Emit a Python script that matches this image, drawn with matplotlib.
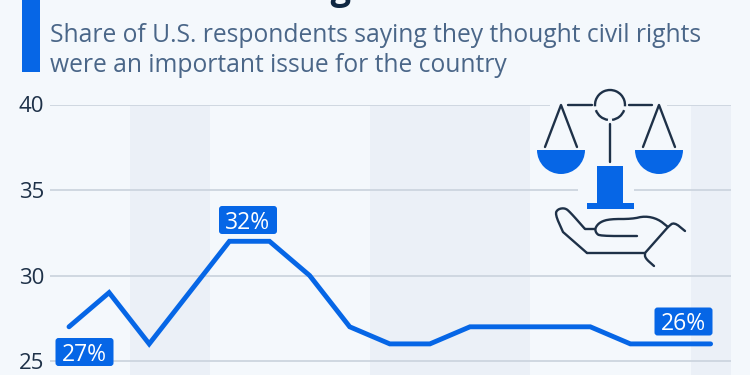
import matplotlib
matplotlib.use("Agg")
import matplotlib.pyplot as plt
from matplotlib.patches import FancyBboxPatch, Rectangle, Wedge, Arc

values = [27, 29, 26, 29, 32, 32, 30, 27, 26, 26, 27, 27, 27, 27, 26, 26, 26]
positions = list(range(len(values)))
y_ticks = [25, 30, 35, 40]
label_27 = "27%"
label_32 = "32%"
label_26 = "26%"
bands = [(1.52, 3.51), (7.5, 11.5), (15.5, 16.5)]

BLUE = "#0666e6"
DARK = "#1e3148"
SUB = "#4a6688"
BG = "#f4f8fc"
W, H = 750, 375
plt.rcParams["font.family"] = ["Open Sans", "DejaVu Sans"]

fig = plt.figure(figsize=(W / 100, H / 100), dpi=100, facecolor=BG)
ax = fig.add_axes([50 / W, 0, (731 - 50) / W, (375 - 104.5) / H])
ax.set_facecolor("none")
x_per_px = 1 / 40.1
ax.set_xlim(-(69 - 50) * x_per_px, (731 - 69) * x_per_px)
ax.set_ylim(25 - 14 / 17.1, 40)
for s in ax.spines.values():
    s.set_visible(False)
for a, b in bands:
    ax.axvspan(a, b, color="#ebf0f7", lw=0, zorder=0)
ax.set_yticks(y_ticks)
ax.set_xticks([])
ax.grid(axis="y", color="#cdd5df", lw=1.3, zorder=1)
ax.tick_params(axis="y", length=0, pad=4, labelsize=16, labelcolor=DARK)
ax.plot(positions, values, color=BLUE, lw=3.5, solid_capstyle="round",
        solid_joinstyle="miter", zorder=3)


def badge(px, py, txt):
    bw, bh = 58, 28
    fig.add_artist(FancyBboxPatch((px - bw / 2 + 3, H - py - bh / 2 + 3), bw - 6, bh - 6,
                                  boxstyle="round,pad=3,rounding_size=3",
                                  transform=None, fc=BLUE, ec="none", zorder=5))
    fig.text(px / W, 1 - py / H, txt, color="white", fontsize=16.5,
             ha="center", va="center_baseline", zorder=6)


badge(84.5, 352, label_27)
badge(248, 220, label_32)
badge(683.5, 321.5, label_26)

# header
fig.add_artist(Rectangle((21.5, H - 72), 18, 73, transform=None, fc=BLUE, ec="none"))
fig.text(50 / W, 1 - 42 / H, "Share of U.S. respondents saying they thought civil rights",
         fontsize=17.7, color=SUB, va="baseline")
fig.text(50 / W, 1 - 72 / H, "were an important issue for the country",
         fontsize=17.7, color=SUB, va="baseline")
fig.text(50 / W, 1 + 0.5 / H, "Fair or Slow Progress", fontsize=26, fontweight="bold",
         color="#0f2742", va="baseline")


# icon
def P(x, y):
    return (x, H - y)


# gaps in the gridlines around the icon
for x0, x1, y in [(550, 667, 104.5), (578, 634, 190)]:
    fig.add_artist(Rectangle(P(x0, y + 2), x1 - x0, 4, transform=None, fc=BG, ec="none", zorder=2))

lk = dict(color=DARK, lw=1.7, solid_capstyle="round", solid_joinstyle="round",
          transform=None, zorder=4)


def smooth(pts, n=2):
    for _ in range(n):
        out = [pts[0]]
        for (a, b), (c, d) in zip(pts[:-1], pts[1:]):
            out += [(0.75 * a + 0.25 * c, 0.75 * b + 0.25 * d),
                    (0.25 * a + 0.75 * c, 0.25 * b + 0.75 * d)]
        out.append(pts[-1])
        pts = out
    return pts


def seg(pts, curve=False):
    if curve:
        pts = smooth(pts)
    xs, ys = zip(*[P(*p) for p in pts])
    fig.add_artist(plt.Line2D(xs, ys, **lk))


seg([(568, 105), (592, 105)])
seg([(629, 105), (652, 105)])
seg([(545, 147), (561, 105), (577, 147)])
seg([(643, 147), (659, 105), (675, 147)])
seg([(610, 124), (610, 162)])
for t1, t2 in [(-5, 185), (200, 262), (278, 340)]:
    fig.add_artist(Arc(P(610, 105), 30, 30, theta1=t1, theta2=t2, transform=None,
                       color=DARK, lw=1.7, zorder=4))
for cx in (561, 659):
    fig.add_artist(Wedge(P(cx, 150), 24, 180, 360, transform=None, fc=BLUE, ec="none", zorder=4))
fig.add_artist(Rectangle(P(597, 205), 26, 39, transform=None, fc=BLUE, ec="none", zorder=4))
fig.add_artist(Rectangle(P(587, 209), 47, 6.5, transform=None, fc=BLUE, ec="none", zorder=4))

# fingers
seg([(637, 236), (600, 236), (596, 233), (595, 228), (600, 222), (610, 219),
     (632, 219), (645, 216), (658, 219), (668, 227)], curve=True)
# palm outline, with its straight lower edge kept angular
seg([(595, 229), (585, 229), (585, 229), (570, 212), (565, 208), (558, 209), (555, 214),
     (563, 232), (563, 232), (587, 253), (587, 253), (587, 253)], curve=True)
seg([(587, 253), (645, 253), (668, 227)])
seg([(668, 227), (668, 227), (674, 222), (685, 231), (685, 231)], curve=True)
seg([(645, 253), (645, 258), (654, 266)], curve=True)

fig.savefig("out.png", dpi=100, facecolor=BG)
